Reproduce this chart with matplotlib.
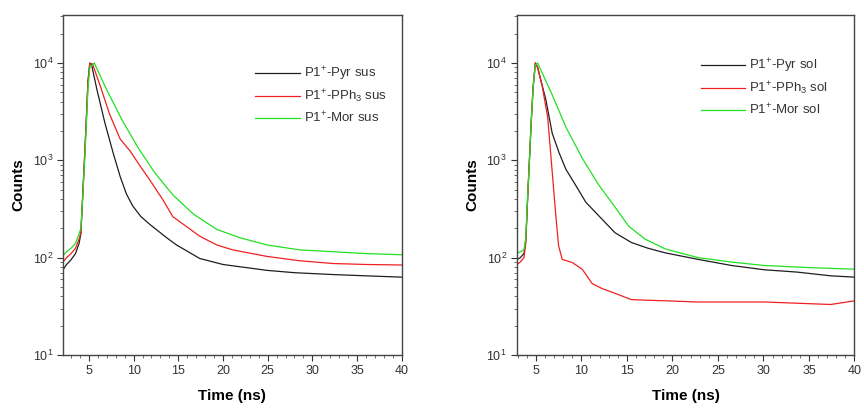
import matplotlib
matplotlib.use("Agg")
import matplotlib.pyplot as plt
from matplotlib.ticker import MultipleLocator, LogLocator

plt.rcParams['font.family'] = ['Liberation Sans', 'DejaVu Sans']
plt.rcParams['mathtext.default'] = 'regular'

# --- suspensions (left) ---
t_pyr_sus = [2.1, 2.5, 3.0, 3.5, 3.9, 4.1, 4.3, 4.5, 4.7, 4.9, 5.1, 5.3, 5.9, 6.8, 7.7,
             8.5, 9.2, 9.9, 10.8, 11.8, 13.7, 14.8, 17.4, 20.0, 24.9, 28.0, 32.3, 36.0, 40.0]
pyr_sus = [75, 85, 95, 110, 140, 175, 420, 1000, 2500, 6500, 10000, 9600, 5300, 2400, 1200,
           680, 450, 340, 265, 220, 160, 135, 98, 85, 74, 70, 67, 65, 63]

t_pph_sus = [2.1, 2.5, 3.0, 3.5, 3.9, 4.1, 4.3, 4.5, 4.7, 4.9, 5.1, 5.4, 6.3, 7.3, 8.5,
             9.6, 10.7, 11.8, 13.3, 14.4, 15.9, 17.4, 19.3, 21.1, 24.9, 28.5, 32.3, 36.0, 40.0]
pph_sus = [90, 100, 110, 125, 155, 180, 420, 1000, 2500, 6500, 9800, 9800, 5700, 3000, 1650,
           1250, 880, 630, 390, 263, 209, 166, 135, 120, 103, 93, 87, 85, 84]

t_mor_sus = [2.1, 2.5, 3.0, 3.5, 3.9, 4.1, 4.3, 4.5, 4.7, 4.9, 5.1, 5.6, 6.9, 8.8, 10.5,
             12.3, 14.4, 16.7, 19.3, 21.9, 24.9, 28.6, 32.3, 36.0, 40.0]
mor_sus = [105, 115, 125, 140, 175, 200, 400, 900, 2200, 5500, 9000, 10000, 5500, 2500, 1350,
           760, 440, 280, 195, 160, 135, 120, 115, 110, 107]

# --- solutions (right) ---
t_pyr_sol = [2.9, 3.3, 3.7, 3.9, 4.1, 4.3, 4.5, 4.7, 4.95, 5.2, 6.1, 6.8, 7.55, 8.3, 9.4,
             10.5, 11.9, 13.7, 15.5, 17.3, 19.2, 22.8, 26.5, 30.1, 33.7, 37.4, 40.0]
pyr_sol = [95, 100, 110, 150, 400, 1000, 2500, 5500, 10000, 9000, 4200, 1900, 1200, 810, 550,
           370, 270, 180, 143, 125, 112, 96, 83, 75, 71, 65, 63]

t_pph_sol = [2.9, 3.3, 3.7, 3.9, 4.1, 4.3, 4.5, 4.7, 4.95, 5.2, 5.7, 6.3, 6.6, 6.9, 7.2,
             7.5, 7.9, 9.0, 10.1, 11.2, 12.3, 13.7, 15.5, 19.2, 22.8, 30.1, 37.4, 40.0]
pph_sol = [85, 90, 100, 140, 400, 1000, 2500, 5500, 10000, 9000, 5800, 2800, 1290, 590, 270,
           133, 96, 89, 76, 54, 48, 43, 37, 36, 35, 35, 33, 36]

t_mor_sol = [2.9, 3.3, 3.7, 3.9, 4.1, 4.3, 4.5, 4.7, 4.95, 5.2, 6.8, 8.3, 10.1, 11.9, 13.7,
             15.2, 17.0, 19.2, 22.8, 26.5, 30.1, 35.0, 40.0]
mor_sol = [110, 115, 120, 160, 420, 1000, 2500, 5500, 9500, 10000, 4700, 2200, 1050, 560, 330,
           210, 155, 123, 100, 90, 83, 79, 76]

BLACK = '#1e1e1e'
RED = '#f02020'
GREEN = '#22e022'

fig = plt.figure(figsize=(8.64, 4.08), dpi=100)
ax1 = fig.add_axes([0.0729, 0.130, 0.392, 0.833])
ax2 = fig.add_axes([0.598, 0.130, 0.391, 0.833])

ax1.plot(t_pyr_sus, pyr_sus, color=BLACK, lw=0.9, label=r'P1$^{+}$-Pyr sus')
ax1.plot(t_pph_sus, pph_sus, color=RED, lw=0.9, label=r'P1$^{+}$-PPh$_{3}$ sus')
ax1.plot(t_mor_sus, mor_sus, color=GREEN, lw=0.9, label=r'P1$^{+}$-Mor sus')

ax2.plot(t_pyr_sol, pyr_sol, color=BLACK, lw=0.9, label=r'P1$^{+}$-Pyr sol')
ax2.plot(t_pph_sol, pph_sol, color=RED, lw=0.9, label=r'P1$^{+}$-PPh$_{3}$ sol')
ax2.plot(t_mor_sol, mor_sol, color=GREEN, lw=0.9, label=r'P1$^{+}$-Mor sol')

legend_pos = {ax1: (0.975, 0.873), ax2: (0.94, 0.897)}

for ax, x0 in ((ax1, 2.1), (ax2, 2.9)):
    ax.set_yscale('log')
    ax.set_xlim(x0, 40)
    ax.set_ylim(10, 3.1e4)
    ax.xaxis.set_major_locator(MultipleLocator(5))
    ax.xaxis.set_minor_locator(MultipleLocator(1))
    ax.yaxis.set_major_locator(LogLocator(base=10, numticks=10))
    ax.yaxis.set_minor_locator(LogLocator(base=10, subs=range(2, 10), numticks=20))
    ax.tick_params(which='major', direction='out', length=4, width=0.8,
                   labelsize=9, colors='#333333', pad=3)
    ax.tick_params(which='minor', direction='out', length=2.2, width=0.6, colors='#555555')
    for sp in ax.spines.values():
        sp.set_color('#444444')
        sp.set_linewidth(1.0)
    ax.set_xlabel('Time (ns)', fontsize=11, fontweight='bold', labelpad=9)
    ax.set_ylabel('Counts', fontsize=11, fontweight='bold', labelpad=5)
    ax.legend(loc='upper right', bbox_to_anchor=legend_pos[ax], frameon=False,
              fontsize=9.5, handlelength=3.4, handletextpad=0.25, labelspacing=0.4,
              labelcolor='#333333', borderpad=0)

fig.savefig('out.png', dpi=100)
